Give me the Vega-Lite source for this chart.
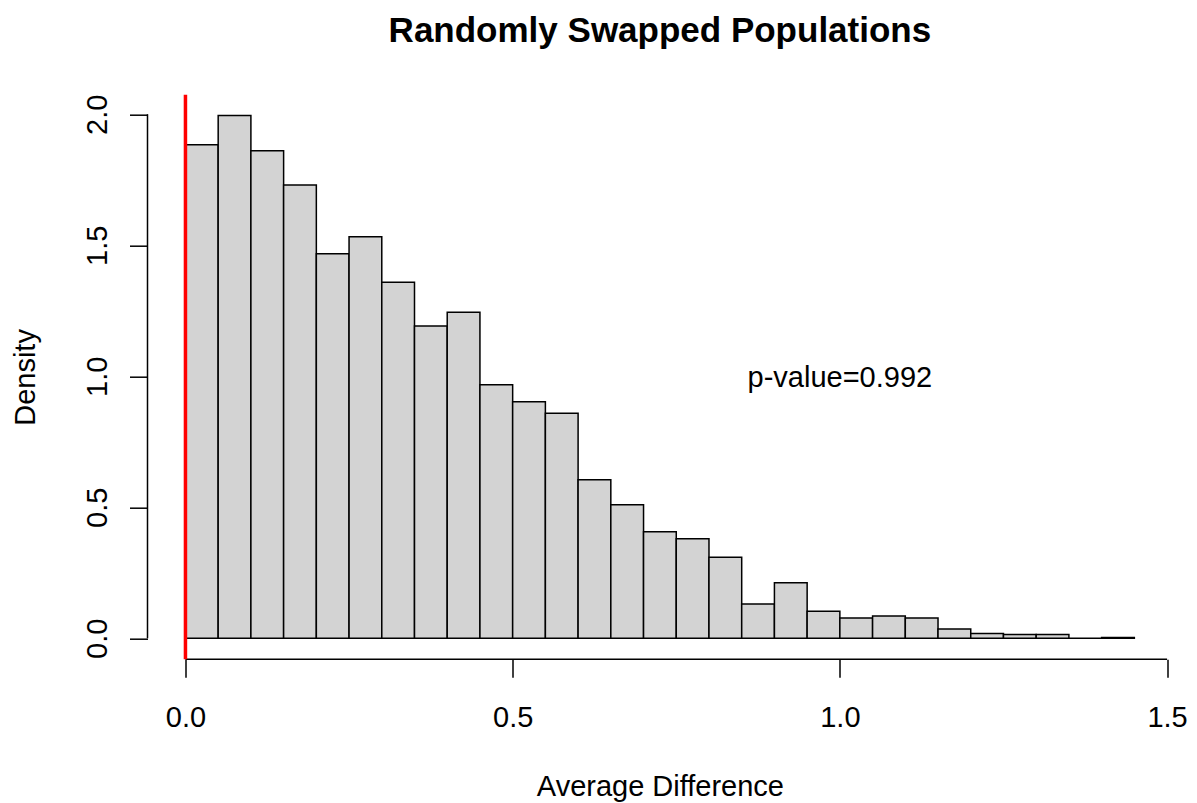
{
  "$schema": "https://vega.github.io/schema/vega-lite/v6.json",
  "width": 1024.8,
  "height": 564.5,
  "autosize": {"type": "none"},
  "padding": {"left": 147.5, "top": 94.7, "right": 24.7, "bottom": 143.8},
  "background": "white",
  "title": {
    "text": "Randomly Swapped Populations",
    "font": "Liberation Sans",
    "fontSize": 35,
    "fontWeight": "bold",
    "color": "black",
    "anchor": "middle",
    "frame": "group",
    "baseline": "alphabetic",
    "offset": 16
  },
  "config": {
    "view": {"stroke": null},
    "axis": {
      "domain": false,
      "grid": false,
      "ticks": true,
      "tickColor": "black",
      "tickWidth": 1.5,
      "tickSize": 18,
      "labelFont": "Liberation Sans",
      "labelFontSize": 29,
      "labelColor": "black",
      "titleFont": "Liberation Sans",
      "titleFontSize": 29,
      "titleFontWeight": "normal",
      "titleColor": "black",
      "labelOverlap": false,
      "labelFlush": false
    }
  },
  "layer": [
    {
      "data": {
        "values": [
          {"bin_start": 0.00, "bin_end": 0.05, "density": 1.884},
          {"bin_start": 0.05, "bin_end": 0.10, "density": 1.995},
          {"bin_start": 0.10, "bin_end": 0.15, "density": 1.861},
          {"bin_start": 0.15, "bin_end": 0.20, "density": 1.730},
          {"bin_start": 0.20, "bin_end": 0.25, "density": 1.468},
          {"bin_start": 0.25, "bin_end": 0.30, "density": 1.533},
          {"bin_start": 0.30, "bin_end": 0.35, "density": 1.359},
          {"bin_start": 0.35, "bin_end": 0.40, "density": 1.192},
          {"bin_start": 0.40, "bin_end": 0.45, "density": 1.244},
          {"bin_start": 0.45, "bin_end": 0.50, "density": 0.968},
          {"bin_start": 0.50, "bin_end": 0.55, "density": 0.903},
          {"bin_start": 0.55, "bin_end": 0.60, "density": 0.859},
          {"bin_start": 0.60, "bin_end": 0.65, "density": 0.605},
          {"bin_start": 0.65, "bin_end": 0.70, "density": 0.510},
          {"bin_start": 0.70, "bin_end": 0.75, "density": 0.407},
          {"bin_start": 0.75, "bin_end": 0.80, "density": 0.380},
          {"bin_start": 0.80, "bin_end": 0.85, "density": 0.309},
          {"bin_start": 0.85, "bin_end": 0.90, "density": 0.131},
          {"bin_start": 0.90, "bin_end": 0.95, "density": 0.212},
          {"bin_start": 0.95, "bin_end": 1.00, "density": 0.103},
          {"bin_start": 1.00, "bin_end": 1.05, "density": 0.077},
          {"bin_start": 1.05, "bin_end": 1.10, "density": 0.085},
          {"bin_start": 1.10, "bin_end": 1.15, "density": 0.077},
          {"bin_start": 1.15, "bin_end": 1.20, "density": 0.035},
          {"bin_start": 1.20, "bin_end": 1.25, "density": 0.018},
          {"bin_start": 1.25, "bin_end": 1.30, "density": 0.014},
          {"bin_start": 1.30, "bin_end": 1.35, "density": 0.014},
          {"bin_start": 1.35, "bin_end": 1.40, "density": 0.0},
          {"bin_start": 1.40, "bin_end": 1.45, "density": 0.003}
        ]
      },
      "mark": {"type": "rect", "fill": "#d3d3d3", "stroke": "black", "strokeWidth": 1.5},
      "encoding": {
        "x": {
          "field": "bin_start",
          "type": "quantitative",
          "scale": {"domain": [-0.058, 1.508], "nice": false, "zero": false},
          "axis": {
            "values": [0, 0.5, 1.0, 1.5],
            "format": ".1f",
            "title": "Average Difference",
            "labelBaseline": "top",
            "labelAlign": "center",
            "labelPadding": 26,
            "titleBaseline": "alphabetic",
            "titleY": 135.8
          }
        },
        "x2": {"field": "bin_end"},
        "y": {
          "field": "density",
          "type": "quantitative",
          "scale": {"domain": [-0.0798, 2.0748], "nice": false, "zero": false},
          "axis": {
            "values": [0, 0.5, 1.0, 1.5, 2.0],
            "format": ".1f",
            "title": "Density",
            "labelAngle": -90,
            "labelAlign": "center",
            "labelBaseline": "alphabetic",
            "labelPadding": 23,
            "titleAngle": -90,
            "titleAlign": "center",
            "titleBaseline": "alphabetic",
            "titleX": -112.7,
            "titleY": 282.25
          }
        },
        "y2": {"datum": 0}
      }
    },
    {
      "data": {"values": [{}]},
      "mark": {"type": "rule", "color": "black", "strokeWidth": 1.5},
      "encoding": {
        "x": {"datum": 0},
        "x2": {"datum": 1.5},
        "y": {"datum": -0.0798}
      }
    },
    {
      "data": {"values": [{}]},
      "mark": {"type": "rule", "color": "black", "strokeWidth": 1.5},
      "encoding": {
        "x": {"datum": -0.058},
        "y": {"datum": 0},
        "y2": {"datum": 2.0}
      }
    },
    {
      "data": {"values": [{}]},
      "mark": {"type": "rule", "color": "red", "strokeWidth": 3.5},
      "encoding": {
        "x": {"datum": 0}
      }
    },
    {
      "data": {"values": [{"label": "p-value=0.992"}]},
      "mark": {
        "type": "text",
        "font": "Liberation Sans",
        "fontSize": 29,
        "fill": "black",
        "align": "center",
        "baseline": "middle",
        "dy": 2
      },
      "encoding": {
        "x": {"datum": 1.0},
        "y": {"datum": 1.0},
        "text": {"field": "label"}
      }
    }
  ]
}
